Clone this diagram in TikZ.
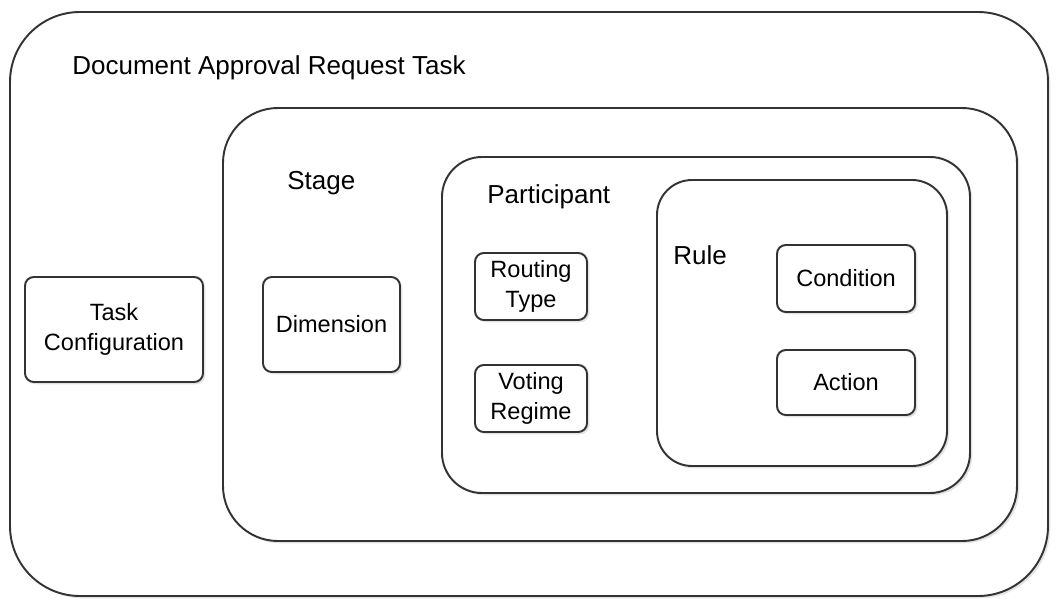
\documentclass[tikz,border=0pt]{standalone}
\usepackage{fontspec}
\setmainfont{Liberation Sans}
\usetikzlibrary{shadows}

\tikzset{
  frame/.style={draw=black!80,line width=1.1pt,fill=white,
    drop shadow={shadow xshift=1.3pt,shadow yshift=-1.3pt,opacity=0.22}},
  item/.style={frame,rounded corners=5pt,align=center,inner sep=0pt,
    font=\fontsize{13.4}{17}\selectfont},
  title/.style={anchor=west,inner sep=0pt,font=\fontsize{14.8}{18}\selectfont},
}

\begin{document}
\begin{tikzpicture}[line join=round]
\useasboundingbox (0,0) rectangle (21.16,-11.98);
% nested containers
\path[frame,rounded corners=1.4cm] (0.2,-0.24) rectangle (20.96,-11.92);
\path[frame,rounded corners=1.1cm] (4.46,-2.16) rectangle (20.34,-10.82);
\path[frame,rounded corners=0.8cm] (8.84,-3.14) rectangle (19.4,-9.86);
\path[frame,rounded corners=0.7cm] (13.14,-3.6) rectangle (18.94,-9.32);
% container titles
\node[title] (task) at (1.44,-1.36) {Document Approval Request Task};
\node[title] (stage) at (5.74,-3.66) {Stage};
\node[title] (participant) at (9.74,-3.94) {Participant};
\node[title] (rule) at (13.46,-5.1) {Rule};
% leaf boxes
\node[item,minimum width=3.56cm,minimum height=2.1cm] (config) at (2.28,-6.59) {Task\\Configuration};
\node[item,minimum width=2.74cm,minimum height=1.9cm] (dimension) at (6.63,-6.49) {Dimension};
\node[item,minimum width=2.24cm,minimum height=1.34cm] (routing) at (10.62,-5.73) {Routing\\Type};
\node[item,minimum width=2.24cm,minimum height=1.34cm] (voting) at (10.62,-7.97) {Voting\\Regime};
\node[item,minimum width=2.76cm,minimum height=1.34cm] (condition) at (16.92,-5.57) {Condition};
\node[item,minimum width=2.76cm,minimum height=1.3cm] (action) at (16.92,-7.65) {Action};
\end{tikzpicture}
\end{document}
